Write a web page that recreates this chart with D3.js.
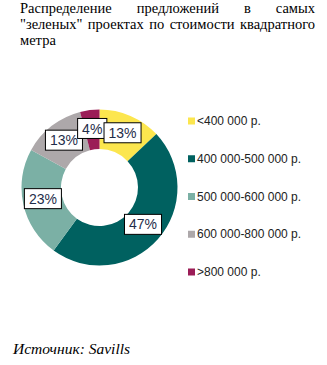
<!DOCTYPE html>
<html><head><meta charset="utf-8">
<script src="https://cdn.jsdelivr.net/npm/d3@7"></script>
</head><body style="margin:0;background:#fff">
<svg id="chart" width="327" height="365"></svg>
<script>
const categories = ["<400 000 р.", "400 000-500 000 р.", "500 000-600 000 р.", "600 000-800 000 р.", ">800 000 р."];
const values = [13, 47, 23, 13, 4];
const colors = ["#FCE64E", "#006160", "#7BB0A5", "#ADA8AA", "#9B1D57"];
const titleLines = ["Распределение предложений в самых", "\"зеленых\" проектах по стоимости квадратного", "метра"];
const sourceText = "Источник: Savills";

const SERIF = '"Liberation Serif"';
const SANS = '"Liberation Sans"';

const svg = d3.select("#chart");

// Title (justified serif)
const titleLeft = 20, titleRight = 315, titleSize = 14.5;
titleLines.forEach((line, i) => {
  const t = svg.append("text")
    .attr("x", titleLeft).attr("y", 13 + i * 16)
    .style("font-family", SERIF).style("font-size", titleSize + "px").attr("fill", "#000");
  if (i < titleLines.length - 1) {
    const words = line.split(" ");
    const tmp = svg.append("text").style("font-family", SERIF).style("font-size", titleSize + "px");
    const widths = words.map(w => { tmp.text(w); return tmp.node().getComputedTextLength(); });
    tmp.remove();
    const total = d3.sum(widths);
    const gap = Math.max(3, (titleRight - titleLeft - total) / (words.length - 1));
    let x = titleLeft;
    words.forEach((w, j) => {
      t.append("tspan").attr("x", x).text(w);
      x += widths[j] + gap;
    });
  } else {
    t.text(line);
  }
});

// Donut
const cx = 99.5, cy = 187.5, rOuter = 78, rInner = 38.5, rLabel = 58;
const pie = d3.pie().sort(null).value(d => d)(values);
const arc = d3.arc().innerRadius(rInner).outerRadius(rOuter);
const g = svg.append("g").attr("transform", `translate(${cx},${cy})`);
g.selectAll("path").data(pie).enter().append("path")
  .attr("d", arc).attr("fill", (d, i) => colors[i]);

const labelArc = d3.arc().innerRadius(rLabel).outerRadius(rLabel);
const labels = pie.map((d, i) => ({ d, i, c: labelArc.centroid(d) }))
  .sort((a, b) => a.c[0] - b.c[0]);
labels.forEach(o => {
  const lg = g.append("g").attr("transform", `translate(${o.c[0]},${o.c[1] - 1.5})`);
  const txt = values[o.i] + "%";
  const t = lg.append("text").attr("text-anchor", "middle").attr("dy", "0.36em")
    .style("font-family", SANS).style("font-size", "14px")
    .attr("fill", "#1F2D4A").text(txt);
  const w = t.node().getComputedTextLength();
  lg.insert("rect", "text").attr("x", -w / 2 - 4.5).attr("y", -10).attr("width", w + 9).attr("height", 20)
    .attr("fill", "#fff").attr("stroke", "#000").attr("stroke-width", 1);
});

// Legend
const legendY = d3.scalePoint().domain(categories).range([121, 272]);
const lgd = svg.append("g");
categories.forEach((c, i) => {
  const y = legendY(c);
  lgd.append("rect").attr("x", 188).attr("y", y - 3.5).attr("width", 7).attr("height", 7).attr("fill", colors[i]);
  lgd.append("text").attr("x", 197).attr("y", y).attr("dy", "0.35em")
    .style("font-family", SANS).style("font-size", "12px")
    .attr("fill", "#222").text(c);
});

// Source
svg.append("text").attr("x", 13).attr("y", 354)
  .style("font-family", SERIF).style("font-style", "italic")
  .style("font-size", "15.5px").attr("fill", "#000").text(sourceText);
</script>
</body></html>
